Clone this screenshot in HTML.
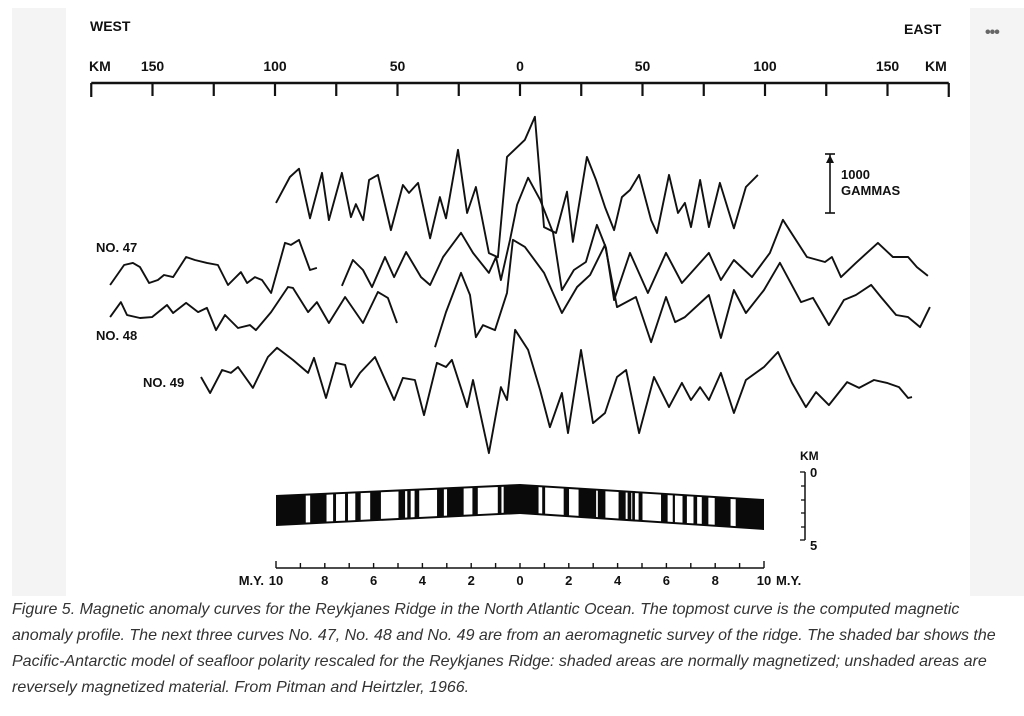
<!DOCTYPE html>
<html><head><meta charset="utf-8"><style>
html,body{margin:0;padding:0;background:#fff;width:1024px;height:716px;overflow:hidden;}
.gray{position:absolute;background:#f4f4f4;}
#caption{position:absolute;left:12px;top:597px;width:1010px;white-space:nowrap;font-family:"Liberation Sans",sans-serif;font-style:italic;font-size:16px;line-height:26px;color:#333;}
svg text{font-family:"Liberation Sans",sans-serif;font-weight:bold;fill:#111;}
</style></head><body>
<div class="gray" style="left:12px;top:8px;width:54px;height:588px"></div>
<div class="gray" style="left:970px;top:8px;width:54px;height:588px"></div>
<div style="position:absolute;left:985px;top:24px;font:bold 16px 'Liberation Sans',sans-serif;color:#666;letter-spacing:-1px">•••</div>
<svg id="fig" width="1024" height="600" style="position:absolute;left:0;top:0">
<text x="90" y="31" font-size="14">WEST</text>
<text x="904" y="34" font-size="14">EAST</text>
<text x="89" y="71" font-size="14">KM</text>
<text x="925" y="71" font-size="14">KM</text>
<g id="kmaxis"></g>
<g id="curves"></g>
<text x="96" y="252" font-size="13">NO. 47</text>
<text x="96" y="340" font-size="13">NO. 48</text>
<text x="143" y="387" font-size="13">NO. 49</text>
<g>
<line x1="830" y1="154" x2="830" y2="213" stroke="#111" stroke-width="1.6"/>
<line x1="825" y1="154" x2="835" y2="154" stroke="#111" stroke-width="1.6"/>
<line x1="825" y1="213" x2="835" y2="213" stroke="#111" stroke-width="1.6"/>
<polygon points="830,155 826,163 834,163" fill="#111"/>
<text x="841" y="179" font-size="13">1000</text>
<text x="841" y="195" font-size="13">GAMMAS</text>
</g>
<g id="bar"></g>
<g id="myaxis"></g>
<g>
<text x="800" y="460" font-size="12">KM</text>
<text x="810" y="477" font-size="13">0</text>
<text x="810" y="550" font-size="13">5</text>
<line x1="805" y1="472" x2="805" y2="540" stroke="#111" stroke-width="1.5"/>
<line x1="800" y1="472" x2="805" y2="472" stroke="#111" stroke-width="1.3"/>
<line x1="801" y1="486" x2="805" y2="486" stroke="#111" stroke-width="1.3"/>
<line x1="801" y1="500" x2="805" y2="500" stroke="#111" stroke-width="1.3"/>
<line x1="801" y1="513" x2="805" y2="513" stroke="#111" stroke-width="1.3"/>
<line x1="801" y1="527" x2="805" y2="527" stroke="#111" stroke-width="1.3"/>
<line x1="800" y1="540" x2="805" y2="540" stroke="#111" stroke-width="1.3"/>
</g>
</svg>
<div id="caption">Figure 5. Magnetic anomaly curves for the Reykjanes Ridge in the North Atlantic Ocean. The topmost curve is the computed magnetic<br>anomaly profile. The next three curves No. 47, No. 48 and No. 49 are from an aeromagnetic survey of the ridge. The shaded bar shows the<br>Pacific-Antarctic model of seafloor polarity rescaled for the Reykjanes Ridge: shaded areas are normally magnetized; unshaded areas are<br>reversely magnetized material. From Pitman and Heirtzler, 1966.</div>
<script>
// ---- data ----
const kmTickLabels = [150, 100, 50, 0, 50, 100, 150];
const kmTickValues = [-150, -100, -50, 0, 50, 100, 150];
const myTickLabels = [10, 8, 6, 4, 2, 0, 2, 4, 6, 8, 10];
const myTickValues = [-10, -8, -6, -4, -2, 0, 2, 4, 6, 8, 10];

const computedKm = [-99.6,-93.9,-90.2,-85.7,-80.8,-78,-72.7,-69,-67,-64,-61.6,-58,-52.7,-47.8,-45.3,-41.6,-36.7,-32.7,-30.2,-25.3,-21.6,-18,-12.7,-9,-5.3,2,6.1,9.8,14.7,19.2,21.6,27.3,31,34.7,38.4,41.6,44.9,48.6,53.5,55.9,60.8,64.5,67.3,69.8,73.5,77.1,81.6,87.3,92.2,97.1];
const computedGammas = [-50,390,530,-310,460,-340,460,-290,-70,-340,340,425,-510,255,120,290,-650,50,-310,850,-220,220,-900,-970,730,1020,1410,-460,-560,140,-710,730,340,-120,-510,50,170,425,-340,-560,425,-220,-50,-460,340,-460,290,-480,220,425];

const no47Km = [-167.3,-161.6,-158,-155.1,-151.4,-147.8,-145.3,-141.6,-136.3,-132.7,-127.8,-123.3,-119.2,-113.9,-111.4,-108.2,-105.3,-101.6,-95.9,-93.5,-90.2,-85.7,-82.9,null,-72.7,-68.2,-64.1,-60.4,-55.1,-51.4,-46.5,-40.4,-36.7,-31.4,-24.1,-19.2,-12.7,-9.8,-7.8,-4.1,-1.2,3.3,8.2,13.5,17.1,22,26.9,31.4,35.1,38.4,44.9,52.2,59.6,66.1,69.8,77.1,82,87.3,94.7,102,107.3,117.1,124.5,127.3,131,137.1,146.1,152.2,158.4,162,166.5];
const no47Gammas = [-255,85,120,50,-220,-170,-85,-120,220,170,120,85,-255,-35,-220,-120,-170,-390,460,425,510,0,35,null,-270,170,0,-290,220,-120,305,-120,-255,220,630,290,-50,220,-170,510,1105,1565,1190,630,-340,0,135,765,375,-510,290,-390,290,-220,-50,290,-170,170,-120,290,850,220,135,220,-120,120,460,220,220,50,-100];

const no48Km = [-167.3,-162.9,-160.4,-155.1,-150.2,-144.1,-141.6,-136.3,-131.4,-127.8,-124.1,-120.4,-115.1,-110.2,-107.8,-101.6,-94.7,-92.7,-86.5,-82.9,-78,-71.4,-64.1,-58,-53.9,-50.2,null,-34.7,-30.2,-24.1,-20.4,-18,-15.1,-10.2,-5.3,-2.9,2,9.8,17.1,23.3,28.6,34.7,39.6,47.3,53.5,59.6,63.3,67.3,77.1,82,87.3,92.2,99.6,106.1,114.7,119.6,126.1,132.2,137.1,143.3,147.3,153.5,158.4,163.3,167.3];
const no48Gammas = [-205,50,-170,-220,-205,0,-135,35,-120,-50,-425,-170,-390,-340,-425,-120,305,290,-120,50,-305,135,-305,220,120,-305,null,-715,-120,545,170,-545,-340,-425,205,1105,985,545,-135,305,510,1020,-35,135,-630,135,-290,-205,170,-560,255,-135,255,715,50,120,-340,85,170,340,135,-170,-205,-375,-35];

const no49Km = [-130.2,-126.5,-121.6,-118,-115.1,-109,-102.9,-99.2,-92.7,-86.5,-84.1,-79.2,-75.1,-71.4,-69,-65.3,-59.2,-51.4,-47.8,-42.9,-39.2,-33.9,-30.2,-27.8,-21.6,-19.2,-12.7,-7.8,-5.3,-2,3.3,8.2,12.2,17.1,19.6,24.9,29.8,34.7,39.6,43.3,48.6,54.7,60.8,66.1,69.8,73.5,77.1,82,87.3,92.2,99.6,105.3,111,116.7,120.8,126.1,133.5,138.4,144.5,149.8,154.7,158.4,160];
const no49Gammas = [135,-135,255,205,305,-50,475,630,425,205,460,-220,375,340,-35,205,475,-255,120,85,-510,375,305,425,-375,85,-1155,-35,-255,935,595,-85,-715,-135,-815,595,-645,-475,135,255,-815,135,-375,35,-255,-35,-255,205,-475,85,305,560,35,-375,-120,-340,50,-50,85,35,-35,-220,-205];

const reversedStartMY = [-8.78,-7.93,-7.54,-7.05,-6.53,-5.70,-4.71,-4.48,-4.13,-3.12,-2.31,-1.73,-0.76,0.76,1.03,2.01,3.12,3.50,4.33,4.56,4.71,5.02,6.05,6.35,6.84,7.26,7.72,8.63];
const reversedEndMY   = [-8.60,-7.66,-7.17,-6.75,-6.14,-4.98,-4.62,-4.32,-3.40,-2.99,-1.95,-0.91,-0.67,0.91,1.79,2.40,3.19,4.04,4.41,4.60,4.86,5.78,6.26,6.66,7.11,7.45,7.98,8.84];

// ---- scales ----
const NS = 'http://www.w3.org/2000/svg';
const xKm = km => 520 + km * 2.45;
const yG = (base, g) => base - g * 0.059;
const xMY = my => 520 + my * 24.4;
function mk(tag, parent, attrs){ const e=document.createElementNS(NS,tag); for(const k in attrs) e.setAttribute(k,attrs[k]); parent.appendChild(e); return e; }

const kmAxis = document.getElementById('kmaxis');
mk('line', kmAxis, {x1:xKm(-175), y1:83, x2:xKm(175), y2:83, stroke:'#111','stroke-width':2.4});
for (let k=-175;k<=175;k+=25){
  const t = mk('line', kmAxis, {x1:xKm(k), y1:83, x2:xKm(k), y2:(Math.abs(k)===175?97:96), stroke:'#111','stroke-width':2.2});
  
  
}
kmTickValues.forEach((v,i)=>{
  const t = mk('text', kmAxis, {x:xKm(v), y:71, 'font-size':14, 'text-anchor':'middle'});
  t.textContent = kmTickLabels[i];
  
  
});

const curvesG = document.getElementById('curves');
function drawCurve(kms, gs, base, name){
  let d='', pen=false;
  for (let i=0;i<kms.length;i++){
    if (kms[i]===null){ pen=false; continue; }
    d += (pen?'L':'M') + xKm(kms[i]).toFixed(1) + ',' + yG(base, gs[i]).toFixed(1) + ' ';
    pen=true;
  }
  const p = mk('path', curvesG, {d:d, fill:'none', stroke:'#111', 'stroke-width':1.9, 'stroke-linejoin':'round'});
  
  
}
drawCurve(computedKm, computedGammas, 200, 'computed-profile-curve');
drawCurve(no47Km, no47Gammas, 270, 'no47-curve');
drawCurve(no48Km, no48Gammas, 305, 'no48-curve');
drawCurve(no49Km, no49Gammas, 385, 'no49-curve');

const bar = document.getElementById('bar');
const topY = my => { const a=Math.abs(my)/10; return 484 + a*(my<0?11:15); };
const botY = my => { const a=Math.abs(my)/10; return 514 + a*(my<0?12:16); };
const barPts = [-10,0,10].map(m=>xMY(m)+','+topY(m)).concat([10,0,-10].map(m=>xMY(m)+','+botY(m))).join(' ');
const bp = mk('polygon', bar, {points:barPts, fill:'#0a0a0a'});


reversedStartMY.forEach((s,i)=>{
  const e = reversedEndMY[i];
  const pts = [xMY(s)+','+(topY(s)+2), xMY(e)+','+(topY(e)+2), xMY(e)+','+(botY(e)-2), xMY(s)+','+(botY(s)-2)].join(' ');
  const r = mk('polygon', bar, {points:pts, fill:'#fff'});
  
  
});

const myAxis = document.getElementById('myaxis');
mk('line', myAxis, {x1:xMY(-10), y1:568, x2:xMY(10), y2:568, stroke:'#111','stroke-width':1.6});
for (let m=-10;m<=10;m++){
  const t = mk('line', myAxis, {x1:xMY(m), y1:568, x2:xMY(m), y2:(Math.abs(m)===10?561:563), stroke:'#111','stroke-width':1.4});
  
  
}
myTickValues.forEach((v,i)=>{
  const t = mk('text', myAxis, {x:xMY(v), y:585, 'font-size':13, 'text-anchor':'middle'});
  t.textContent = myTickLabels[i];
  
  
});
const l1 = mk('text', myAxis, {x:xMY(-10)-12, y:585, 'font-size':13, 'text-anchor':'end'}); l1.textContent='M.Y.';
const l2 = mk('text', myAxis, {x:xMY(10)+12, y:585, 'font-size':13}); l2.textContent='M.Y.';
</script>
</body></html>
